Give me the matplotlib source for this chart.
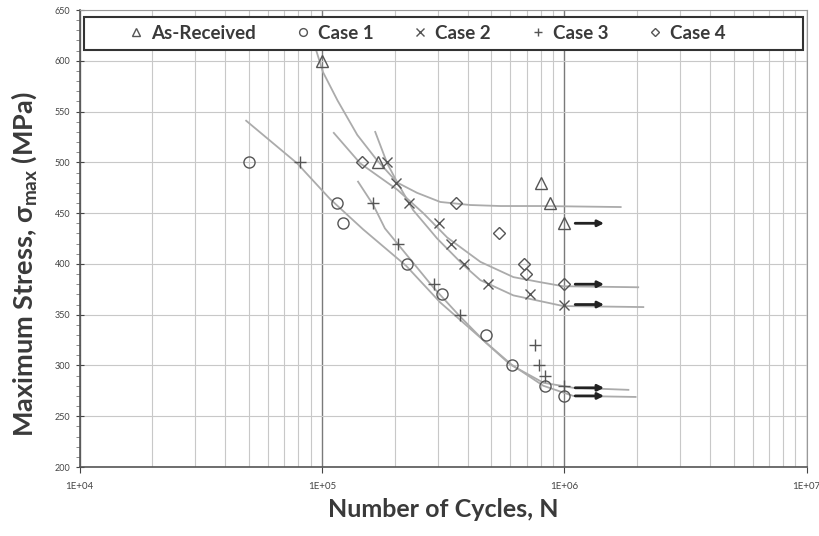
import matplotlib
matplotlib.use("Agg")
import matplotlib.pyplot as plt
from matplotlib.patches import Rectangle
from matplotlib.ticker import FixedLocator, NullFormatter

plt.rcParams['font.family'] = ['Lato', 'DejaVu Sans']
plt.rcParams['mathtext.fontset'] = 'custom'
plt.rcParams['mathtext.rm'] = 'Lato'
plt.rcParams['mathtext.bf'] = 'Lato:bold'

names = ["As-Received", "Case 1", "Case 2", "Case 3", "Case 4"]
markers = ["^", "o", "x", "+", "D"]
msizes = [8, 8, 7.5, 8, 6]

# test points (cycles, max stress MPa)
ar_n = [1.0e5, 1.7e5, 8.0e5, 8.7e5, 1.0e6]
ar_s = [600, 500, 480, 460, 440]
c1_n = [5.0e4, 1.15e5, 1.22e5, 2.24e5, 3.13e5, 4.77e5, 6.1e5, 8.3e5, 1.0e6]
c1_s = [500, 460, 440, 400, 370, 330, 300, 280, 270]
c2_n = [1.86e5, 2.02e5, 2.29e5, 3.04e5, 3.41e5, 3.86e5, 4.85e5, 7.2e5, 1.0e6]
c2_s = [500, 480, 460, 440, 420, 400, 380, 370, 360]
c3_n = [8.1e4, 1.63e5, 2.06e5, 2.9e5, 3.72e5, 7.55e5, 7.9e5, 8.36e5, 1.0e6]
c3_s = [500, 460, 420, 380, 350, 320, 300, 290, 280]
c4_n = [1.46e5, 3.58e5, 5.4e5, 6.84e5, 6.97e5, 1.0e6]
c4_s = [500, 460, 430, 400, 390, 380]

# trend curves
ar_fit_n = [9.2e4, 1.01e5, 1.16e5, 1.40e5, 1.69e5, 2.05e5, 2.47e5, 3.08e5, 4.09e5, 5.44e5, 7.96e5, 1.71e6]
ar_fit_s = [620, 589, 561, 527, 502, 480, 470, 461, 458, 457, 457, 456]
c1_fit_n = [4.87e4, 7.91e4, 1.08e5, 1.48e5, 2.23e5, 3.08e5, 4.63e5, 6.05e5, 8.2e5, 1.09e6, 1.97e6]
c1_fit_s = [541, 499, 464, 434, 398, 362, 325, 301, 280, 270, 269]
c2_fit_n = [1.66e5, 1.86e5, 2.05e5, 2.38e5, 2.99e5, 3.83e5, 4.51e5, 6.17e5, 9.91e5, 2.12e6]
c2_fit_s = [530, 499, 480, 453, 425, 399, 384, 369, 358.5, 357.5]
c3_fit_n = [1.41e5, 1.63e5, 1.82e5, 2.05e5, 2.88e5, 3.69e5, 4.72e5, 5.98e5, 8.2e5, 1.09e6, 1.84e6]
c3_fit_s = [481, 458, 435, 420, 377, 349, 323, 301, 283, 278, 276]
c4_fit_n = [1.12e5, 1.44e5, 2.05e5, 2.62e5, 3.29e5, 4.51e5, 6.17e5, 7.96e5, 9.91e5, 2.02e6]
c4_fit_s = [529, 499, 473, 450, 426, 402, 387, 382, 378, 377]

# run-outs (no failure at 1E+06 cycles)
runout_n = 1.0e6
runout_s = [440, 380, 360, 278, 270]

data_n = [ar_n, c1_n, c2_n, c3_n, c4_n]
data_s = [ar_s, c1_s, c2_s, c3_s, c4_s]
fit_n = [ar_fit_n, c1_fit_n, c2_fit_n, c3_fit_n, c4_fit_n]
fit_s = [ar_fit_s, c1_fit_s, c2_fit_s, c3_fit_s, c4_fit_s]

fig = plt.figure(figsize=(8.2, 5.36), dpi=100)
ax = fig.add_axes([0.097, 0.1287, 0.8866, 0.8526])

ax.set_xscale('log')
ax.set_xlim(1e4, 1e7)
ax.set_ylim(200, 650)

for fn, fs in zip(fit_n, fit_s):
    ax.plot(fn, fs, color='#ababab', lw=1.3, zorder=2)

for n, s, name, m, ms in zip(data_n, data_s, names, markers, msizes):
    ax.plot(n, s, linestyle='none', marker=m, ms=ms, mfc='none', mec='#555555',
            mew=1.0, label=name, zorder=3)

for s in runout_s:
    ax.annotate('', xy=(runout_n * 1.46, s), xytext=(runout_n * 1.11, s),
                arrowprops=dict(arrowstyle='-|>', color='#222222', lw=2.0,
                                mutation_scale=9, shrinkA=0, shrinkB=0), zorder=4)

# grid
ax.xaxis.set_major_locator(FixedLocator([1e4, 1e5, 1e6, 1e7]))
ax.xaxis.set_minor_locator(FixedLocator([k * 10 ** e for e in (4, 5, 6) for k in range(2, 10)]))
ax.xaxis.set_minor_formatter(NullFormatter())
ax.set_xticklabels(['1E+04', '1E+05', '1E+06', '1E+07'])
ax.yaxis.set_major_locator(FixedLocator(list(range(200, 651, 50))))
ax.yaxis.set_minor_locator(FixedLocator(list(range(200, 651, 10))))
ax.grid(which='major', axis='x', color='#7a7a7a', lw=1.0, zorder=0)
ax.grid(which='minor', axis='x', color='#c8c8c8', lw=0.8, zorder=0)
ax.grid(which='major', axis='y', color='#c8c8c8', lw=0.8, zorder=0)
ax.set_axisbelow(True)

ax.tick_params(axis='x', which='major', direction='out', length=4, labelsize=7,
               colors='#444444', pad=7)
ax.tick_params(axis='x', which='minor', length=0)
ax.tick_params(axis='y', which='major', direction='inout', length=6, labelsize=6.5,
               colors='#444444')
ax.tick_params(axis='y', which='minor', direction='out', length=3, colors='#777777')
for side in ('left', 'bottom'):
    ax.spines[side].set_color('#555555')
    ax.spines[side].set_linewidth(1.2)
for side in ('top', 'right'):
    ax.spines[side].set_color('#999999')
    ax.spines[side].set_linewidth(0.8)

ax.set_xlabel('Number of Cycles, N', fontsize=18, fontweight='bold', color='#3a3a3a')
ax.xaxis.set_label_coords(0.5, -0.068)
ax.set_ylabel(r'Maximum Stress, σ$_{\mathbf{max}}$ (MPa)', fontsize=19.5,
              fontweight='bold', color='#3a3a3a')
ax.yaxis.set_label_coords(-0.056, 0.444)

# legend box
ax.add_patch(Rectangle((0.0055, 0.912), 0.99, 0.073, transform=ax.transAxes,
                       facecolor='white', edgecolor='#333333', lw=1.5, zorder=5))
leg = ax.legend(loc='center', bbox_to_anchor=(0.478, 0.9485), ncol=5, frameon=False,
                fontsize=13.5, markerscale=0.7, handlelength=0.8, handletextpad=0.4,
                columnspacing=2.1, borderaxespad=0)
leg.set_zorder(6)
for t in leg.get_texts():
    t.set_fontweight('bold')
    t.set_color('#3a3a3a')

fig.savefig('out.png', dpi=100)
